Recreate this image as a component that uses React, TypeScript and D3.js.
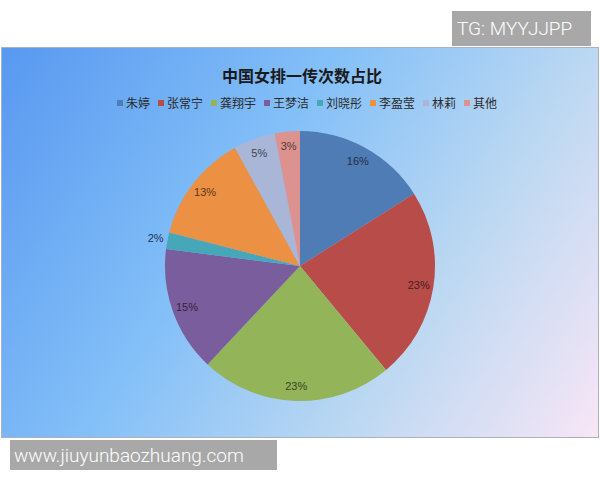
import * as d3 from "d3";
import React, { useEffect, useRef } from "react";

const players = ["朱婷", "张常宁", "龚翔宇", "王梦洁", "刘晓彤", "李盈莹", "林莉", "其他"];
const shares = [16, 23, 23, 15, 2, 13, 5, 3];
const colors = ["#4f7cb4", "#b84c48", "#94b45a", "#7a5d9c", "#45a7b8", "#ec9044", "#a9b6d8", "#dc938f"];

const W = 600, H = 480;

export default function App() {
  const svgRef = useRef<SVGSVGElement | null>(null);

  useEffect(() => {
    document.body.style.margin = "0";
    const svg = d3.select(svgRef.current);
    svg.selectAll("*").remove();

    // chart panel with diagonal gradient
    const defs = svg.append("defs");
    const grad = defs.append("linearGradient")
      .attr("id", "bg")
      .attr("gradientUnits", "userSpaceOnUse")
      .attr("x1", 1).attr("y1", 47).attr("x2", 598).attr("y2", 437);
    grad.append("stop").attr("offset", 0).attr("stop-color", "#5898f0");
    grad.append("stop").attr("offset", 0.4).attr("stop-color", "#84c0f8");
    grad.append("stop").attr("offset", 0.7).attr("stop-color", "#bcd8f2");
    grad.append("stop").attr("offset", 1).attr("stop-color", "#f8e6f6");

    svg.append("rect")
      .attr("x", 1.5).attr("y", 47.5).attr("width", 597).attr("height", 390)
      .attr("fill", "url(#bg)")
      .attr("stroke", "#a9b3bf").attr("stroke-width", 1);

    // title
    svg.append("text")
      .attr("x", 302).attr("y", 82)
      .attr("text-anchor", "middle")
      .attr("font-family", "'Noto Sans CJK SC', sans-serif")
      .attr("font-weight", "bold")
      .attr("font-size", 16)
      .attr("fill", "#1a1a1a")
      .text("中国女排一传次数占比");

    // legend
    const fs = 12;
    const lg = svg.append("g").attr("font-family", "'Noto Sans CJK SC', sans-serif").attr("font-size", fs);
    let lx = 117;
    players.forEach((p, i) => {
      lg.append("rect").attr("x", lx).attr("y", 100).attr("width", 6).attr("height", 6).attr("fill", colors[i]);
      lg.append("text").attr("x", lx + 9).attr("y", 107.5).attr("fill", "#2a2a2a").text(p);
      lx += 9 + p.length * fs + 8;
    });

    // pie
    const cx = 300, cy = 266, r = 135;
    const pie = d3.pie<number>().sort(null).value(d => d);
    const arcs = pie(shares);
    const arc = d3.arc<d3.PieArcDatum<number>>().innerRadius(0).outerRadius(r);

    const g = svg.append("g").attr("transform", `translate(${cx},${cy})`);
    g.selectAll("path")
      .data(arcs)
      .join("path")
      .attr("d", arc)
      .attr("fill", (_, i) => colors[i])
      .attr("stroke", "none");

    const total = d3.sum(shares);
    g.selectAll("text")
      .data(arcs)
      .join("text")
      .attr("transform", d => {
        const lr = d.data < 3 ? r + 12 : r * 0.89;
        const [x, y] = d3.arc<d3.PieArcDatum<number>>().innerRadius(lr).outerRadius(lr).centroid(d);
        return `translate(${x},${y})`;
      })
      .attr("text-anchor", "middle")
      .attr("dy", "0.35em")
      .attr("font-family", "Arial, 'Liberation Sans', sans-serif")
      .attr("font-size", 11)
      .attr("fill", (d, i) => d.data < 3 ? "#1d3557" : d3.color(colors[i])!.darker(2.7).formatHex())
      .text(d => `${Math.round((d.data / total) * 100)}%`);

    // watermarks
    svg.append("rect").attr("x", 452).attr("y", 11).attr("width", 139).attr("height", 35).attr("fill", "#a8a8a8");
    svg.append("text").attr("x", 457).attr("y", 35)
      .attr("font-family", "Roboto, sans-serif").attr("font-weight", 300).attr("font-size", 19).attr("fill", "#fff")
      .text("TG: MYYJJPP");
    svg.append("rect").attr("x", 10).attr("y", 440).attr("width", 267).attr("height", 30).attr("fill", "#a8a8a8");
    svg.append("text").attr("x", 14).attr("y", 462)
      .attr("font-family", "Roboto, sans-serif").attr("font-weight", 300).attr("font-size", 19).attr("fill", "#fff")
      .text("www.jiuyunbaozhuang.com");
  }, []);

  return <svg ref={svgRef} width={W} height={H} style={{ display: "block", background: "#fff" }} />;
}
